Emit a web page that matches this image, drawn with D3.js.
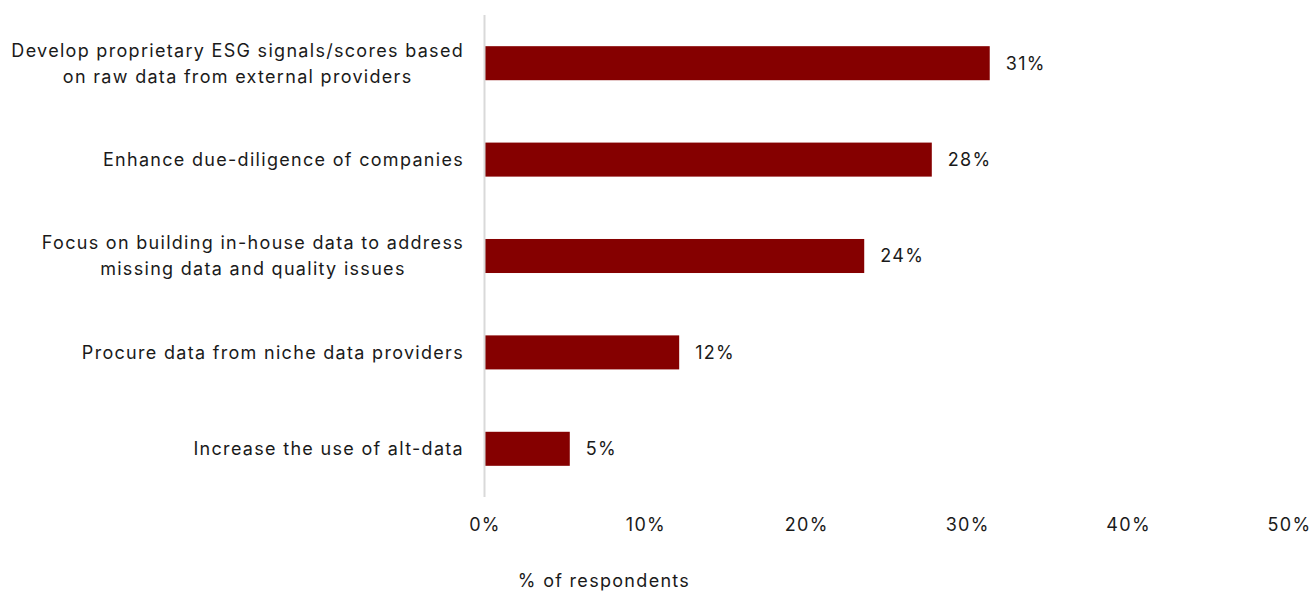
<!DOCTYPE html>
<html>
<head>
<meta charset="utf-8">
<script src="https://cdn.jsdelivr.net/npm/d3@7"></script>
<style>
  body { margin: 0; background: #fff; }
  text { font-family: Inter, "Open Sans", sans-serif; fill: #1a1a1a; letter-spacing: 1.3px; }
</style>
</head>
<body>
<svg id="chart"></svg>
<script>
let width = 1311, height = 592;

let categories = [
  ["Develop proprietary ESG signals/scores based", "on raw data from external providers"],
  ["Enhance due-diligence of companies"],
  ["Focus on building in-house data to address", "missing data and quality issues"],
  ["Procure data from niche data providers"],
  ["Increase the use of alt-data"]
];
let values = [31.4, 27.8, 23.6, 12.1, 5.3];
let valueLabels = ["31%", "28%", "24%", "12%", "5%"];
let ticks = [0, 10, 20, 30, 40, 50];
let axisTitle = "% of respondents";

let fontSize = 18;

let svg = d3.select("#chart")
  .attr("width", width)
  .attr("height", height);

let x = d3.scaleLinear().domain([0, 50]).range([484.5, 1289]);
let y = d3.scaleBand()
  .domain(d3.range(values.length))
  .range([15, 497])
  .paddingInner(0.647)
  .paddingOuter(0.3235);

// bars
svg.selectAll("rect.bar")
  .data(values)
  .enter().append("rect")
    .attr("class", "bar")
    .attr("x", x(0) + 0.5)
    .attr("y", (d, i) => y(i))
    .attr("width", d => x(d) - x(0) - 0.5)
    .attr("height", y.bandwidth())
    .attr("fill", "#850000");

// vertical axis line
svg.append("line")
  .attr("x1", x(0)).attr("x2", x(0))
  .attr("y1", 15).attr("y2", 497)
  .attr("stroke", "#d9d9d9")
  .attr("stroke-width", 2);

// value labels
svg.selectAll("text.val")
  .data(values)
  .enter().append("text")
    .attr("class", "val")
    .attr("x", d => x(d) + 16)
    .attr("y", (d, i) => y(i) + y.bandwidth() / 2)
    .attr("dy", "0.35em")
    .style("font-size", fontSize + "px")
    .text((d, i) => valueLabels[i]);

// category labels: block right-aligned at 463, lines centred within block
let lineH = 26;
let labelRight = 464;
let cat = svg.selectAll("text.cat")
  .data(categories)
  .enter().append("text")
    .attr("class", "cat")
    .attr("text-anchor", "middle")
    .style("font-size", fontSize + "px")
    .attr("y", (d, i) => y(i) + y.bandwidth() / 2);

cat.selectAll("tspan")
  .data(d => d.map((t, j) => ({t, j, n: d.length})))
  .enter().append("tspan")
    .attr("dy", (d) => d.j === 0 ? (0.35 * fontSize - (d.n - 1) * lineH / 2) + "px" : lineH + "px")
    .text(d => d.t);

cat.each(function() {
  let spans = d3.select(this).selectAll("tspan");
  let w = d3.max(spans.nodes(), n => n.getComputedTextLength());
  spans.attr("x", labelRight - w / 2);
});

// x axis tick labels
let xAxis = d3.axisBottom(x)
  .tickValues(ticks)
  .tickFormat(d => d + "%")
  .tickSize(0)
  .tickPadding(0);

let gx = svg.append("g")
  .attr("transform", "translate(0,518)")
  .call(xAxis);
gx.select(".domain").remove();
gx.selectAll("text")
  .style("font-size", fontSize + "px")
  .style("font-family", "Inter, sans-serif")
  .attr("fill", "#1a1a1a");

// axis title
svg.append("text")
  .attr("x", 604)
  .attr("y", 581)
  .attr("dy", "0.35em")
  .attr("text-anchor", "middle")
  .style("font-size", fontSize + "px")
  .text(axisTitle);
</script>
</body>
</html>
